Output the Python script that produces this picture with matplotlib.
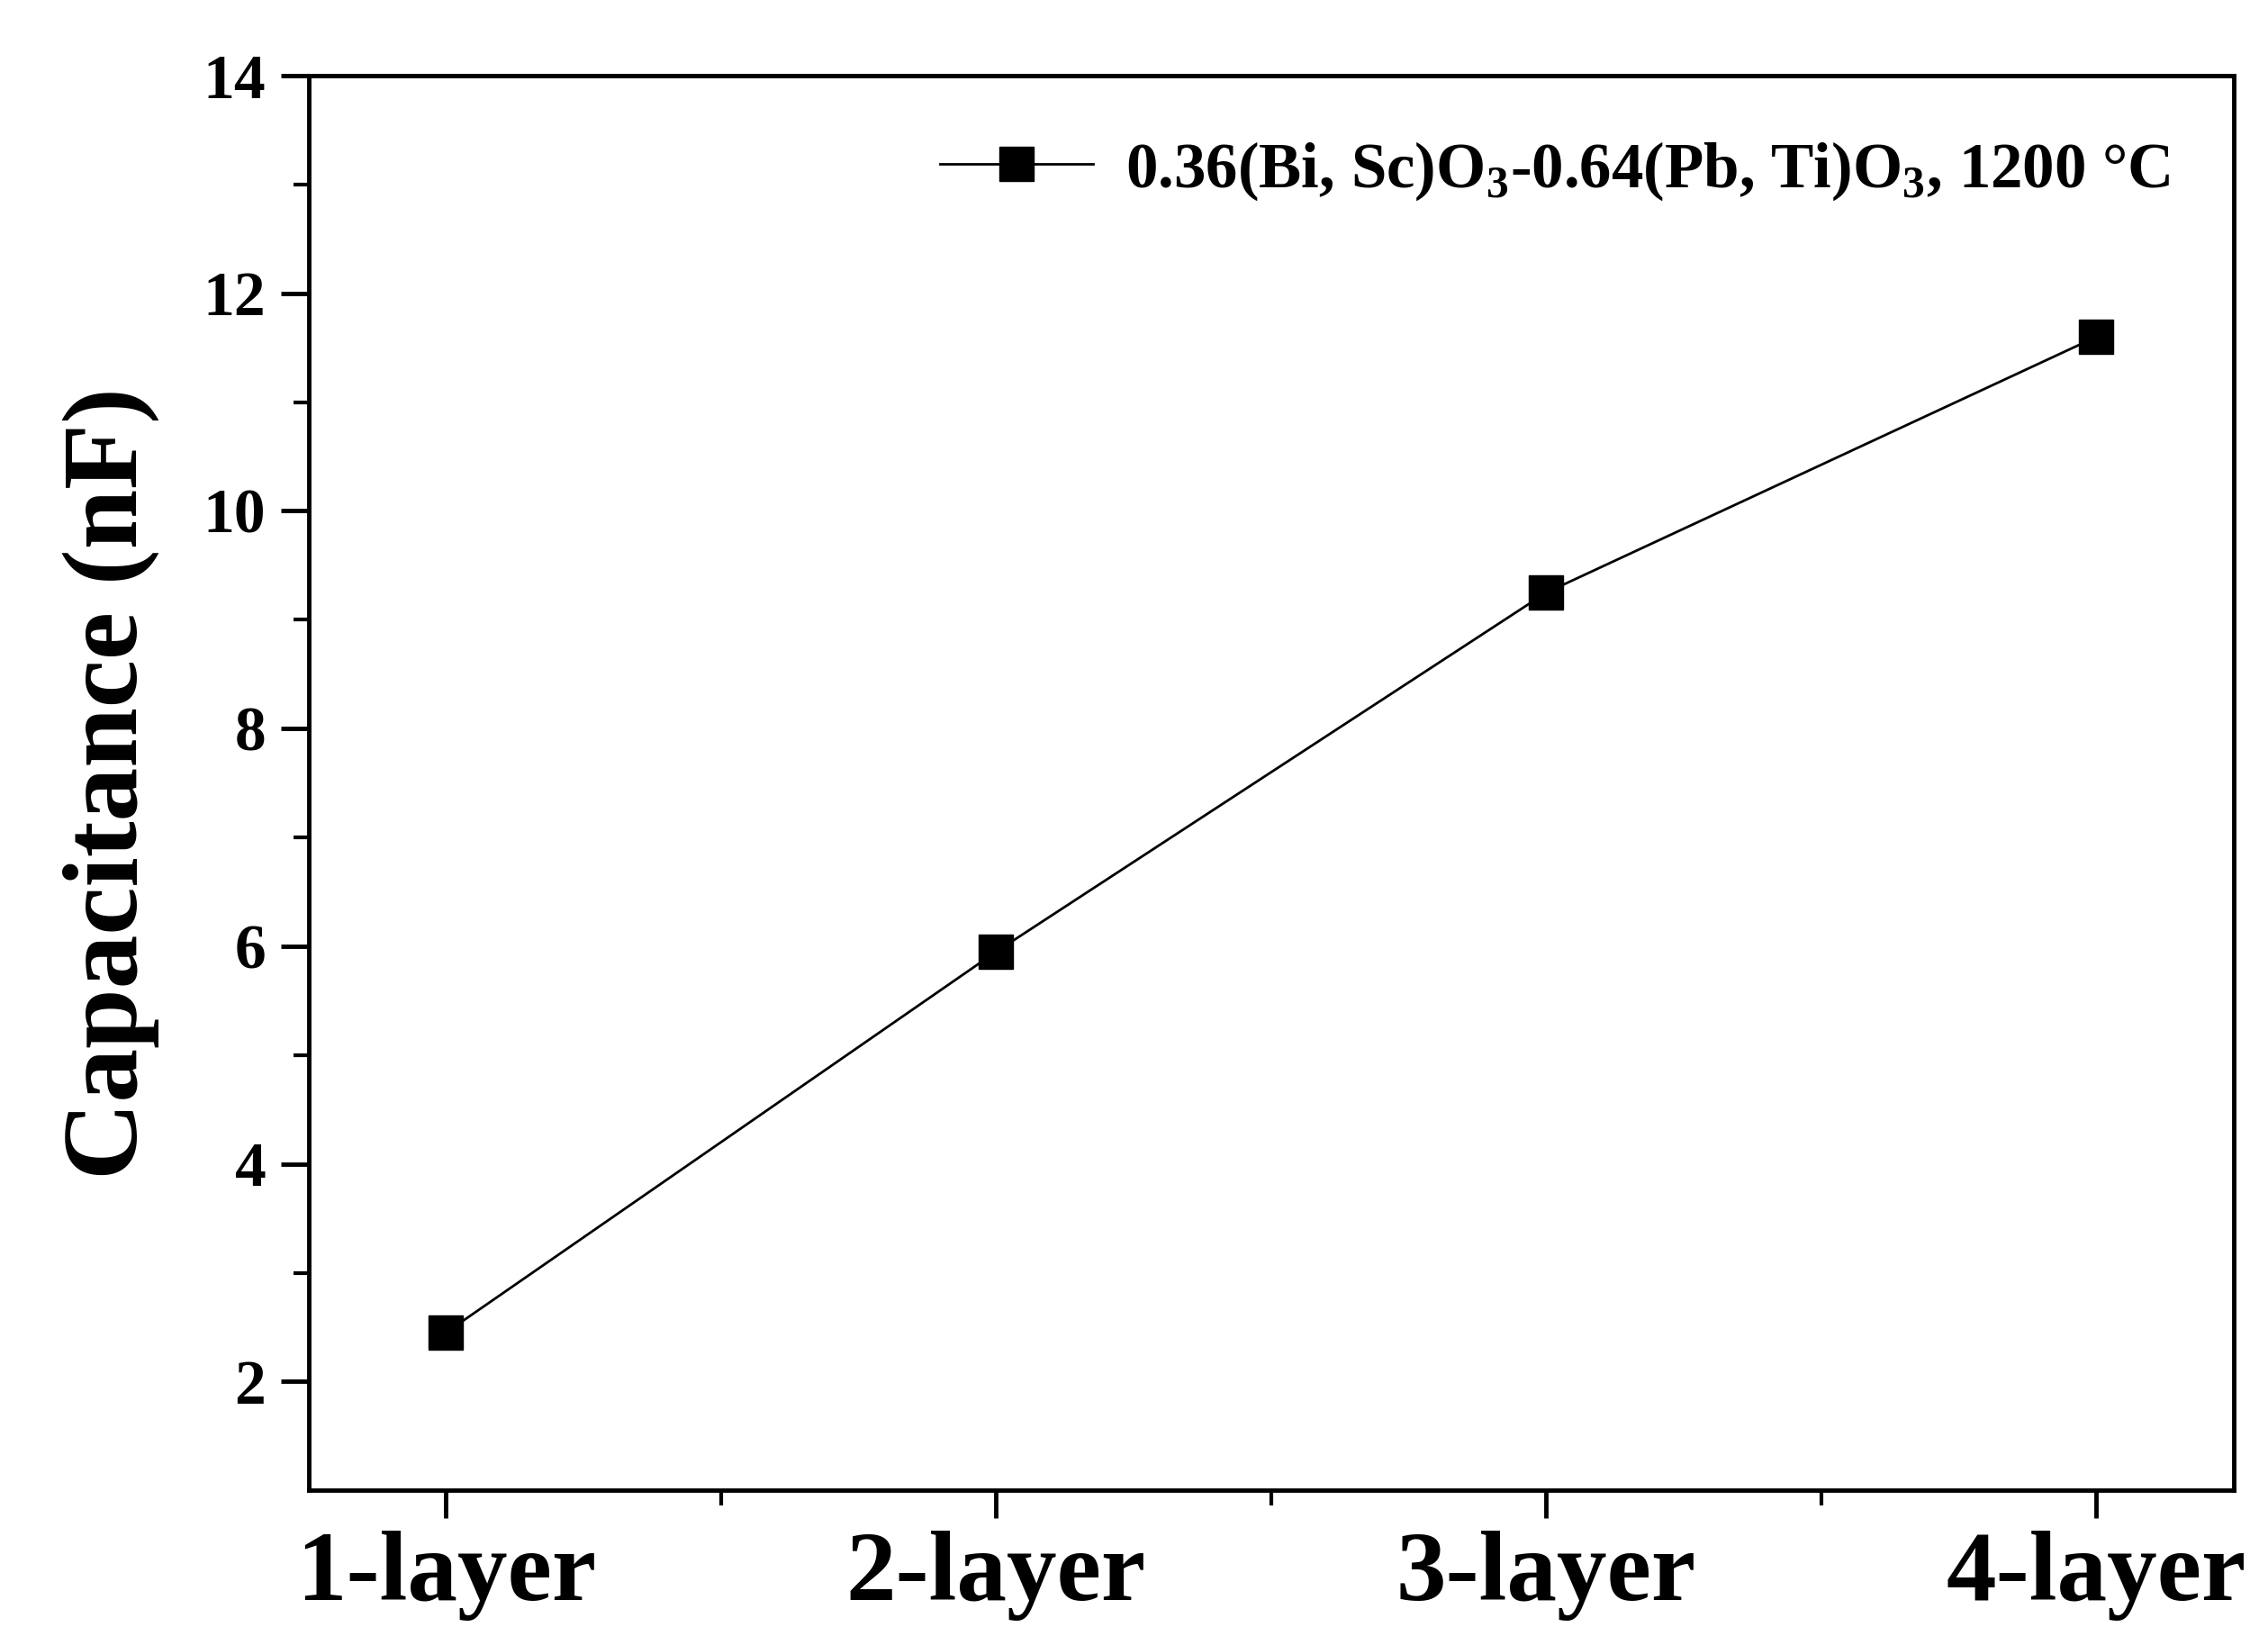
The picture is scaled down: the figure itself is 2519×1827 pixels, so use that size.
import matplotlib
matplotlib.use('Agg')
import matplotlib.pyplot as plt

plt.rcParams['font.family'] = 'Liberation Serif'
plt.rcParams['font.weight'] = 'bold'
plt.rcParams['mathtext.fontset'] = 'custom'
plt.rcParams['mathtext.rm'] = 'Liberation Serif:bold'
plt.rcParams['mathtext.bf'] = 'Liberation Serif:bold'

layers = [1, 2, 3, 4]
layer_labels = ['1-layer', '2-layer', '3-layer', '4-layer']
capacitance = [2.45, 5.95, 9.25, 11.6]
series_label = r'0.36(Bi, Sc)O$_{\mathbf{3}}$-0.64(Pb, Ti)O$_{\mathbf{3}}$, 1200 °C'

fig = plt.figure(figsize=(25.19, 18.27), dpi=100)
ax = fig.add_axes([0.136, 0.094, 0.849, 0.860])

ax.plot(layers, capacitance, color='black', linewidth=2, marker='s',
        markersize=27, label=series_label)

ax.set_xlim(0.75, 4.25)
ax.set_ylim(1, 14)
ax.set_xticks(layers)
ax.set_xticklabels(layer_labels, fontsize=80, fontweight='bold')
ax.set_xticks([1.5, 2.5, 3.5], minor=True)
ax.set_yticks([2, 4, 6, 8, 10, 12, 14])
ax.set_yticks([3, 5, 7, 9, 11, 13], minor=True)
ax.tick_params(axis='y', labelsize=50, pad=12)
ax.tick_params(which='major', direction='out', length=22, width=3.5)
ax.tick_params(which='minor', direction='out', length=12, width=3)
ax.tick_params(axis='x', pad=10)
for s in ax.spines.values():
    s.set_linewidth(3.5)

ax.set_ylabel('Capacitance (nF)', fontsize=86, fontweight='bold', labelpad=35)
ax.legend(loc='upper right', frameon=False, fontsize=51, handlelength=2.4,
          handletextpad=0.5, borderaxespad=0.6)

fig.savefig('out.png', dpi=100)
